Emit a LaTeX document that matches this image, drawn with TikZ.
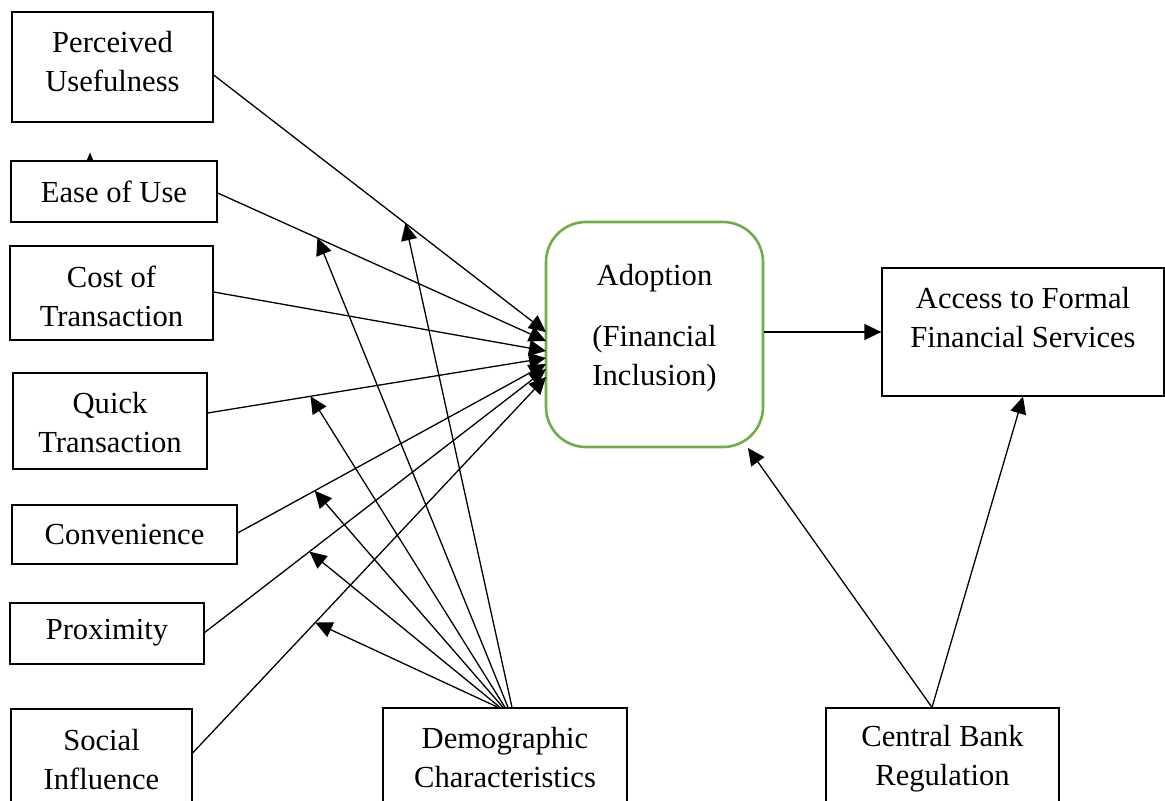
\documentclass[tikz,border=0pt]{standalone}
\usepackage{fontspec}
\setmainfont{Liberation Serif}
\usetikzlibrary{arrows.meta,calc}
\newcommand\diagfont{\fontsize{15.3pt}{19.5pt}\selectfont}
\definecolor{adgreen}{HTML}{70AD47}
\begin{document}
\begin{tikzpicture}[x=0.5pt,y=-0.5pt,
  factor/.style={draw,line width=0.65pt,inner sep=0pt,align=center,font=\diagfont},
  adbox/.style={draw=adgreen,line width=1.3pt,rounded corners=20pt,inner sep=0pt,minimum width=108.5pt,minimum height=112.5pt},
  txt/.style={inner sep=0pt,align=center,font=\diagfont},
  conn/.style={line width=0.65pt,-{Triangle[length=8.5pt,width=8pt]}},
  plain/.style={line width=0.65pt}]
\useasboundingbox (0,0) rectangle (1165,801);
\fill[white] (0,0) rectangle (1165,801);
\clip (0,0) rectangle (1165,801);

% factor boxes
\node[factor,minimum width=100.5pt,minimum height=55pt] (PU) at (112.5,67) {};
\node[txt] (PUt) at (112.5,62) {Perceived\\Usefulness};
\node[factor,minimum width=103pt,minimum height=30.5pt] (EU) at (114,191.5) {Ease of Use};
\node[factor,minimum width=101.5pt,minimum height=47pt] (CT) at (111.5,293) {};
\node[txt] (CTt) at (111.5,296) {Cost of\\Transaction};
\node[factor,minimum width=97pt,minimum height=48pt] (QT) at (110,421) {};
\node[txt] (QTt) at (110,423) {Quick\\Transaction};
\node[factor,minimum width=112.5pt,minimum height=29.5pt] (CV) at (124.5,534.5) {Convenience};
\node[factor,minimum width=97pt,minimum height=30.5pt] (PX) at (107,633.5) {};
\node[txt] (PXt) at (107,633) {Proximity};
\node[factor,minimum width=90.5pt,minimum height=51pt] (SI) at (101.5,760) {Social\\Influence};
\node[factor,minimum width=122pt,minimum height=49.5pt] (DC) at (505,757.5) {Demographic\\Characteristics};
\node[factor,minimum width=116.5pt,minimum height=49.5pt] (CB) at (942.5,757.5) {};
\node[txt] (CBt) at (942.5,759) {Central Bank\\Regulation};
\node[factor,minimum width=141pt,minimum height=64pt] (AF) at (1023,332) {};
\node[txt] (AFt) at (1023,318) {Access to Formal\\Financial Services};
\node[adbox] (AD) at (654.5,334.5) {};
\node[txt] (ADt) at (654.5,328) {Adoption\\[11pt](Financial\\Inclusion)};

% stray arrowhead above Ease of Use
\fill (86.5,161) -- (93.5,161) -- (90,152.5) -- cycle;

% targets on Adoption
\coordinate (tPU) at (546,332);
\coordinate (tEU) at (546,341);
\coordinate (tCT) at (546,351);
\coordinate (tQT) at (546,358);
\coordinate (tCV) at (546,364);
\coordinate (tPX) at (546,369);
\coordinate (tSI) at (546,377);

% starts
\coordinate (sPU) at ($(PU.east)+(0,8)$);
\coordinate (sEU) at ($(EU.east)+(0,1.5)$);
\coordinate (sCT) at ($(CT.east)+(0,-1)$);
\coordinate (sQT) at ($(QT.east)+(0,-8)$);
\coordinate (sCV) at ($(CV.east)+(0,-1.5)$);
\coordinate (sPX) at ($(PX.east)+(0,-1)$);
\coordinate (sSI) at ($(SI.east)+(0,-7)$);

\draw[conn] (sPU) -- (tPU);
\draw[conn] (sEU) -- (tEU);
\draw[conn] (sCT) -- (tCT);
\draw[conn] (sQT) -- (tQT);
\draw[conn] (sCV) -- (tCV);
\draw[conn] (sPX) -- (tPX);
\draw[conn] (sSI) -- (tSI);

% demographic moderating arrows
\draw[conn] ($(DC.north)+(7,0)$) -- ($(sPU)!0.577!(tPU)$);
\draw[conn] ($(DC.north)+(3,0)$) -- ($(sEU)!0.304!(tEU)$);
\draw[conn] ($(DC.north)+(0,0)$) -- ($(sQT)!0.304!(tQT)$);
\draw[conn] ($(DC.north)+(-2,0)$) -- ($(sCV)!0.25!(tCV)$);
\draw[conn] ($(DC.north)+(-5,0)$) -- ($(sPX)!0.307!(tPX)$);
\draw[conn] ($(DC.north)+(-7,0)$) -- ($(sSI)!0.347!(tSI)$);

% adoption to access
\draw[conn] (AD.east |- AF.west) -- (AF.west);

% central bank
\coordinate (tAD) at (748,448);
\draw[conn] ($(CB.north)+(-10.5,0)$) -- (tAD);
\draw[conn] ($(CB.north)+(-10.5,0)$) -- (AF.south);
\end{tikzpicture}
\end{document}
